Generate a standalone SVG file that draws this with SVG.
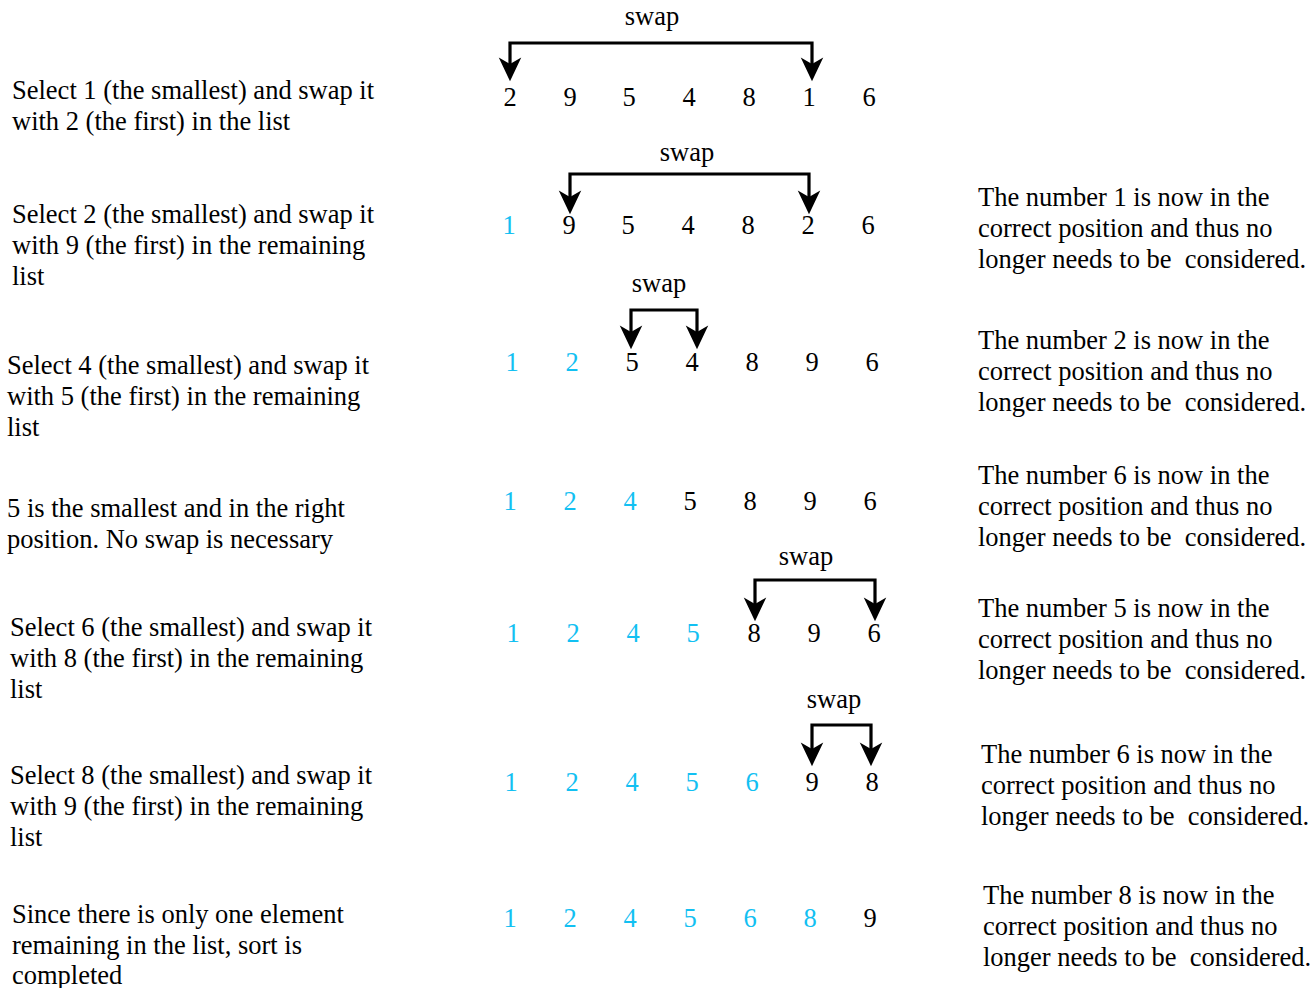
<svg xmlns="http://www.w3.org/2000/svg" width="1310" height="988" viewBox="0 0 1310 988">
<style>
text{font-family:"Liberation Serif","Times New Roman",serif;font-size:26.5px;fill:#000;white-space:pre}
.n{text-anchor:middle}
.c{fill:#12C0F2}
.sw{text-anchor:middle}
.con{fill:none;stroke:#000;stroke-width:3.2;stroke-linejoin:miter}
</style>
<defs>
<marker id="ah" markerUnits="userSpaceOnUse" markerWidth="30" markerHeight="30" viewBox="-2 -12 28 24" refX="6" refY="0" orient="auto-start-reverse">
<path d="M0,-10.5 L22,0 L0,10.5 L6,0 Z" fill="#000"/>
</marker>
</defs>
<rect width="1310" height="988" fill="#fff"/>

<g id="connectors">
<path class="con" d="M510,64 V43 H812 V64" marker-start="url(#ah)" marker-end="url(#ah)"/>
<path class="con" d="M570,197 V174 H809 V197" marker-start="url(#ah)" marker-end="url(#ah)"/>
<path class="con" d="M631,332 V310 H697 V332" marker-start="url(#ah)" marker-end="url(#ah)"/>
<path class="con" d="M755,604 V580 H875 V604" marker-start="url(#ah)" marker-end="url(#ah)"/>
<path class="con" d="M812,749 V725 H871 V749" marker-start="url(#ah)" marker-end="url(#ah)"/>
</g>

<g id="swap-labels">
<text class="sw" x="652" y="25">swap</text>
<text class="sw" x="687" y="161">swap</text>
<text class="sw" x="659" y="292">swap</text>
<text class="sw" x="806" y="565">swap</text>
<text class="sw" x="834" y="708">swap</text>
</g>

<g id="row1">
<text class="n" x="510" y="106">2</text><text class="n" x="570" y="106">9</text><text class="n" x="629" y="106">5</text><text class="n" x="689" y="106">4</text><text class="n" x="749" y="106">8</text><text class="n" x="809" y="106">1</text><text class="n" x="869" y="106">6</text>
</g>
<g id="row2">
<text class="n c" x="509" y="234">1</text><text class="n" x="569" y="234">9</text><text class="n" x="628" y="234">5</text><text class="n" x="688" y="234">4</text><text class="n" x="748" y="234">8</text><text class="n" x="808" y="234">2</text><text class="n" x="868" y="234">6</text>
</g>
<g id="row3">
<text class="n c" x="512" y="371">1</text><text class="n c" x="572" y="371">2</text><text class="n" x="632" y="371">5</text><text class="n" x="692" y="371">4</text><text class="n" x="752" y="371">8</text><text class="n" x="812" y="371">9</text><text class="n" x="872" y="371">6</text>
</g>
<g id="row4">
<text class="n c" x="510" y="510">1</text><text class="n c" x="570" y="510">2</text><text class="n c" x="630" y="510">4</text><text class="n" x="690" y="510">5</text><text class="n" x="750" y="510">8</text><text class="n" x="810" y="510">9</text><text class="n" x="870" y="510">6</text>
</g>
<g id="row5">
<text class="n c" x="513" y="642">1</text><text class="n c" x="573" y="642">2</text><text class="n c" x="633" y="642">4</text><text class="n c" x="693" y="642">5</text><text class="n" x="754" y="642">8</text><text class="n" x="814" y="642">9</text><text class="n" x="874" y="642">6</text>
</g>
<g id="row6">
<text class="n c" x="511" y="791">1</text><text class="n c" x="572" y="791">2</text><text class="n c" x="632" y="791">4</text><text class="n c" x="692" y="791">5</text><text class="n c" x="752" y="791">6</text><text class="n" x="812" y="791">9</text><text class="n" x="872" y="791">8</text>
</g>
<g id="row7">
<text class="n c" x="510" y="927">1</text><text class="n c" x="570" y="927">2</text><text class="n c" x="630" y="927">4</text><text class="n c" x="690" y="927">5</text><text class="n c" x="750" y="927">6</text><text class="n c" x="810" y="927">8</text><text class="n" x="870" y="927">9</text>
</g>

<g id="step1-desc"><text x="12" y="99">Select 1 (the smallest) and swap it</text><text x="12" y="130">with 2 (the first) in the list</text></g>
<g id="step2-desc"><text x="12" y="223">Select 2 (the smallest) and swap it</text><text x="12" y="254">with 9 (the first) in the remaining</text><text x="12" y="285">list</text></g>
<g id="step3-desc"><text x="7" y="374">Select 4 (the smallest) and swap it</text><text x="7" y="405">with 5 (the first) in the remaining</text><text x="7" y="436">list</text></g>
<g id="step4-desc"><text x="7" y="517">5 is the smallest and in the right</text><text x="7" y="548">position. No swap is necessary</text></g>
<g id="step5-desc"><text x="10" y="636">Select 6 (the smallest) and swap it</text><text x="10" y="667">with 8 (the first) in the remaining</text><text x="10" y="698">list</text></g>
<g id="step6-desc"><text x="10" y="784">Select 8 (the smallest) and swap it</text><text x="10" y="815">with 9 (the first) in the remaining</text><text x="10" y="846">list</text></g>
<g id="step7-desc"><text x="12" y="923">Since there is only one element</text><text x="12" y="954">remaining in the list, sort is</text><text x="12" y="984">completed</text></g>

<g id="note1"><text x="978" y="206">The number 1 is now in the</text><text x="978" y="237">correct position and thus no</text><text x="978" y="268">longer needs to be  considered.</text></g>
<g id="note2"><text x="978" y="349">The number 2 is now in the</text><text x="978" y="380">correct position and thus no</text><text x="978" y="411">longer needs to be  considered.</text></g>
<g id="note3"><text x="978" y="484">The number 6 is now in the</text><text x="978" y="515">correct position and thus no</text><text x="978" y="546">longer needs to be  considered.</text></g>
<g id="note4"><text x="978" y="617">The number 5 is now in the</text><text x="978" y="648">correct position and thus no</text><text x="978" y="679">longer needs to be  considered.</text></g>
<g id="note5"><text x="981" y="763">The number 6 is now in the</text><text x="981" y="794">correct position and thus no</text><text x="981" y="825">longer needs to be  considered.</text></g>
<g id="note6"><text x="983" y="904">The number 8 is now in the</text><text x="983" y="935">correct position and thus no</text><text x="983" y="966">longer needs to be  considered.</text></g>
</svg>
